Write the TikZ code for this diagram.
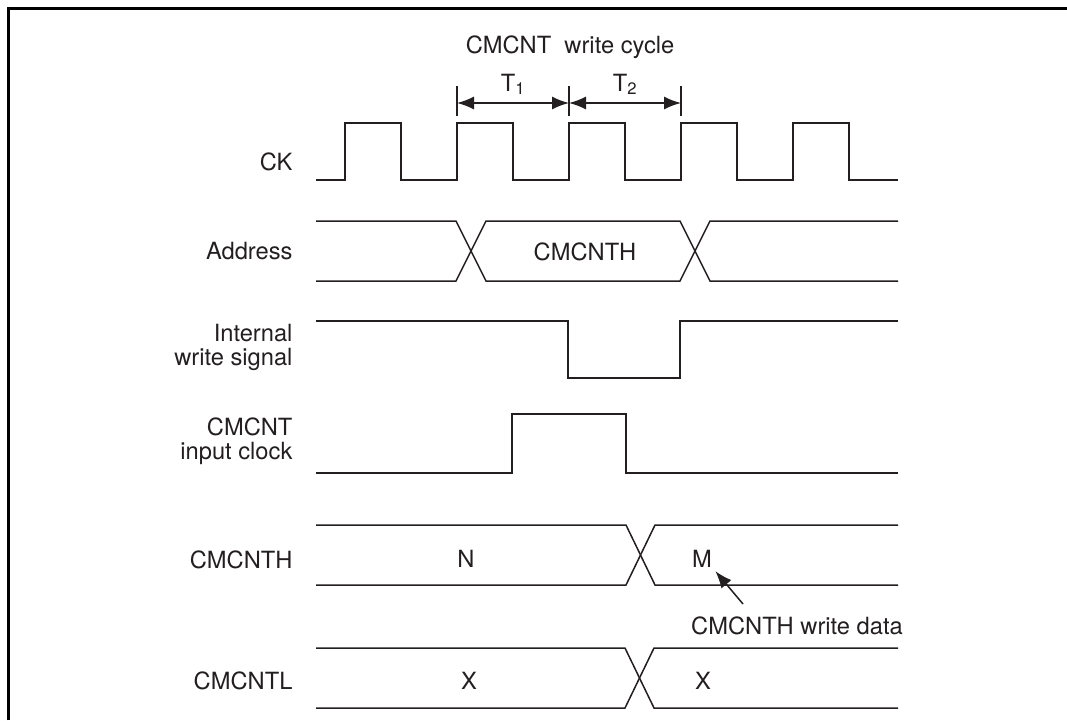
\documentclass[tikz,border=0pt]{standalone}
\usepackage{fontspec}
\setmainfont{TeX Gyre Heros}
\usetikzlibrary{arrows.meta,positioning}
\definecolor{ink}{HTML}{231F20}

\begin{document}
\begin{tikzpicture}[x=1pt,y=-1pt,>={Latex[length=17pt,width=13pt]},
  every node/.style={text=ink,font=\fontsize{23.7}{24}\selectfont},
  wave/.style={draw=ink,line width=1.5pt},
  lbl/.style={anchor=east,align=right}]
\useasboundingbox (0,0) rectangle (1067,720);
\draw[line width=2.6pt] (8.5,720) -- (8.5,8.5) -- (1067,8.5);
% signal names
\node[lbl] (ck) at (296,162) {CK};
\node[lbl] (addr) at (296,251) {Address};
\node[lbl] (iws) at (296,347) {Internal\\write signal};
\node[lbl] (cin) at (296,441) {CMCNT\\input clock};
\node[lbl] (cmh) at (296,560) {CMCNTH};
\node[lbl] (cml) at (296,681) {CMCNTL};
% write cycle
\node (title) at (570,47) {CMCNT\ \ write cycle};
\coordinate (t0) at (457,103); \coordinate (t1) at (569,103); \coordinate (t2) at (681,103);
\foreach \t in {t0,t1,t2} \draw[wave] (\t) ++(0,-17) -- ++(0,30);
\draw[wave,<->] (t0)--node[above=4pt] (T1) {T\textsubscript{1}}(t1);
\draw[wave,<->] (t1)--node[above=4pt] (T2) {T\textsubscript{2}}(t2);
% CK
\draw[wave] (316,180) \foreach \x in {345,457,569,681,793}
  {-- (\x,180) -- (\x,123) -- (\x+56,123) -- (\x+56,180)} -- (898,180);
% Address
\draw[wave] (316,221) -- (456,221) -- (486,281) -- (680,281) -- (710,221) -- (898,221);
\draw[wave] (316,281) -- (456,281) -- (486,221) -- (680,221) -- (710,281) -- (898,281);
\node (adval) at (585,252) {CMCNTH};
% internal write signal, input clock
\draw[wave] (316,321) -| (568,378) -| (680,321) -- (898,321);
\draw[wave] (316,473) -| (512,414) -| (626,473) -- (898,473);
% CMCNTH, CMCNTL
\draw[wave] (316,525) -- (626,525) -- (655,585) -- (898,585);
\draw[wave] (316,585) -- (626,585) -- (655,525) -- (898,525);
\draw[wave] (316,648) -- (625,648) -- (654,708) -- (898,708);
\draw[wave] (316,708) -- (625,708) -- (654,648) -- (898,648);
\node (n) at (466,559) {N}; \node (m) at (702,559) {M};
\node (xl) at (469,681) {X}; \node (xr) at (703,681) {X};
\node (wd) at (797,626) {CMCNTH write data};
\coordinate (wdtail) at (743,604);
\draw[wave,->] (wdtail) -- (m.south east);
\end{tikzpicture}
\end{document}
